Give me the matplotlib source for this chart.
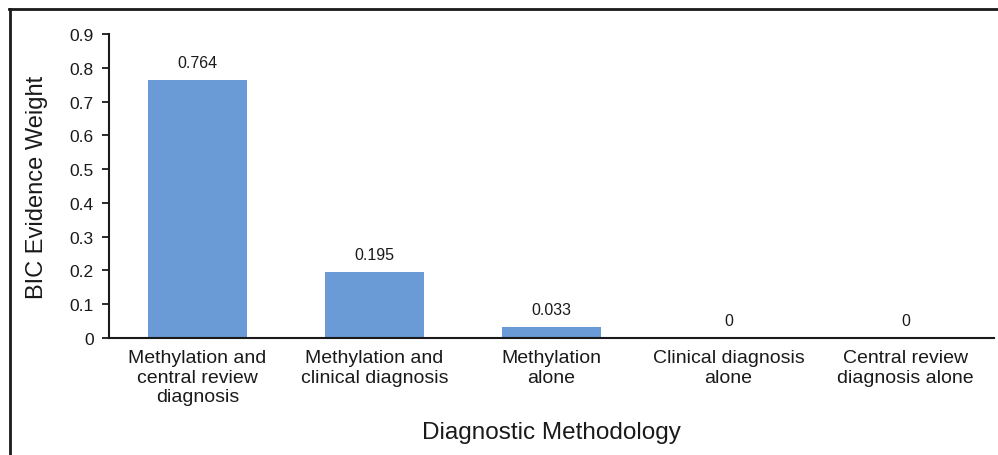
import matplotlib.pyplot as plt
from matplotlib.lines import Line2D
import numpy as np

methods = ['Methylation and\ncentral review\ndiagnosis',
           'Methylation and\nclinical diagnosis',
           'Methylation\nalone',
           'Clinical diagnosis\nalone',
           'Central review\ndiagnosis alone']
weights = [0.764, 0.195, 0.033, 0, 0]
value_labels = ['0.764', '0.195', '0.033', '0', '0']
yticks = [0, 0.1, 0.2, 0.3, 0.4, 0.5, 0.6, 0.7, 0.8, 0.9]
ytick_labels = ['0', '0.1', '0.2', '0.3', '0.4', '0.5', '0.6', '0.7', '0.8', '0.9']

W, H = 998, 456
fig = plt.figure(figsize=(W / 100, H / 100), dpi=100)
ax = fig.add_axes([109 / W, 1 - 339 / H, (994 - 109) / W, (339 - 35) / H])

sans = ['Liberation Sans', 'DejaVu Sans']
narrow = ['Liberation Sans Narrow', 'Liberation Sans', 'DejaVu Sans']
ink = '#1a1a1a'

x = np.arange(len(methods))
ax.bar(x, weights, width=0.555, color='#6a9bd7', zorder=2)
for xi, w, lab in zip(x, weights, value_labels):
    ax.annotate(lab, (xi, w), xytext=(0, 7), textcoords='offset points',
                ha='center', va='bottom', fontsize=11.5, family=sans, color=ink)

ax.set_xlim(-0.5, len(methods) - 0.5)
ax.set_ylim(0, 0.9)
ax.set_yticks(yticks)
ax.set_yticklabels(ytick_labels, family=sans, fontsize=12.5)
ax.set_xticks(x)
ax.set_xticklabels(methods, family=sans, fontsize=14, linespacing=1.2)
ax.tick_params(axis='y', direction='out', length=5, width=1.3, pad=6, colors=ink)
ax.tick_params(axis='x', length=0, pad=8, colors=ink)

for side in ['top', 'right']:
    ax.spines[side].set_visible(False)
for side in ['left', 'bottom']:
    ax.spines[side].set_linewidth(1.5)
    ax.spines[side].set_color(ink)

ax.set_ylabel('BIC Evidence Weight', family=narrow, fontsize=17, color=ink)
ax.yaxis.set_label_coords((48 - 109) / 885, 0.5)
fig.text(551.5 / W, 1 - 433 / H, 'Diagnostic Methodology', family=narrow,
         fontsize=17.5, ha='center', va='center', color=ink)

# frame around the figure (open on the right and bottom)
fig.add_artist(Line2D([9 / W, 997 / W], [1 - 9.5 / H, 1 - 9.5 / H],
                      color=ink, lw=2, transform=fig.transFigure))
fig.add_artist(Line2D([9.5 / W, 9.5 / W], [0, 1 - 9.5 / H],
                      color=ink, lw=2, transform=fig.transFigure))

fig.savefig('out.png', dpi=100)
